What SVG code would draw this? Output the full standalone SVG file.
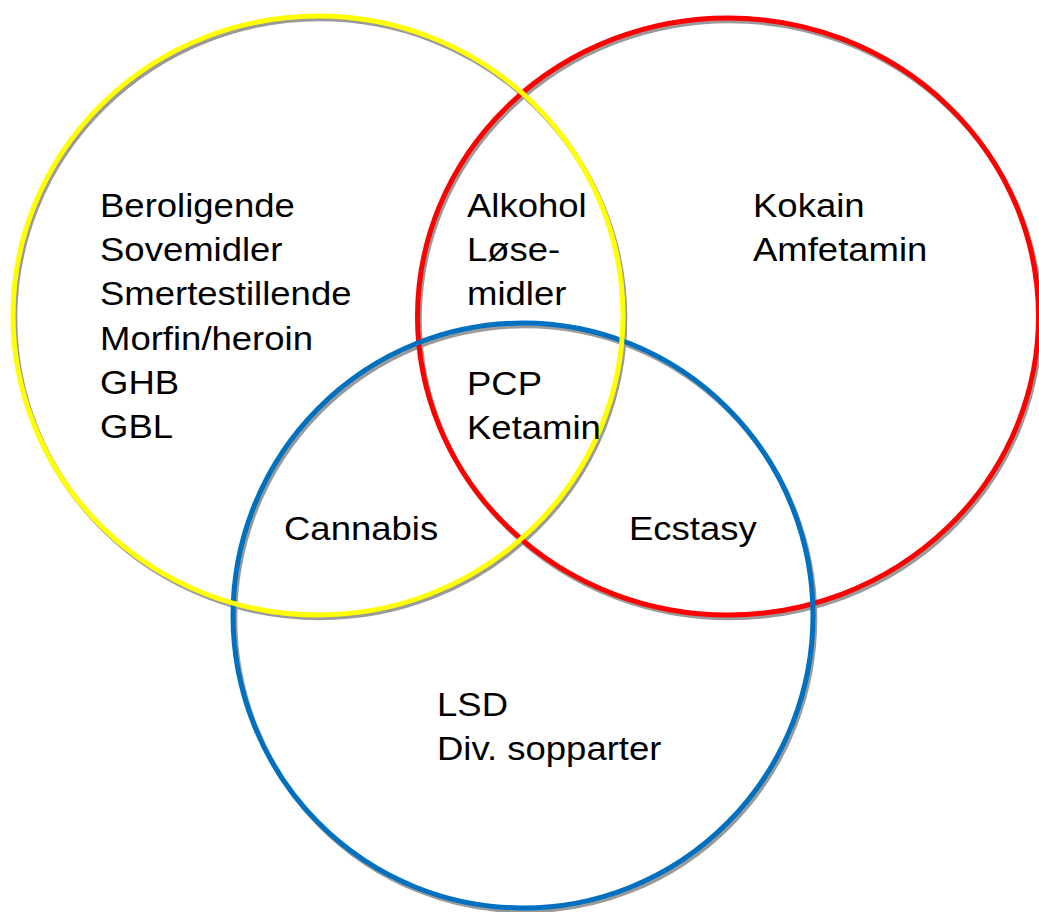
<svg xmlns="http://www.w3.org/2000/svg" width="1039" height="912" viewBox="0 0 1039 912">
<style>
.ring{fill:none;stroke-width:5}
.sh{fill:none;stroke:#9a9a9a;stroke-width:5}
.lbl{font-family:"Liberation Sans",Arial,sans-serif;font-size:33.5px;fill:#000}
</style>
<rect width="1039" height="912" fill="#fff"/>
<g id="shadows">
<ellipse class="sh" cx="729.8" cy="319.3" rx="310.5" ry="298.5"/>
<ellipse class="sh" cx="524.8" cy="618.3" rx="290" ry="292.5"/>
<ellipse class="sh" cx="319.8" cy="318.3" rx="305" ry="299.5"/>
</g>
<g id="circle-red"><ellipse class="ring" stroke="#ff0000" cx="728" cy="316.5" rx="310.5" ry="298.5"/></g>
<g id="circle-blue"><ellipse class="ring" stroke="#0070c0" cx="523" cy="615.5" rx="290" ry="292.5"/></g>
<g id="circle-yellow"><ellipse class="ring" stroke="#ffff00" cx="318" cy="315.5" rx="305" ry="299.5"/></g>
<g id="node-yellow">
<text class="lbl" transform="translate(100,217) scale(1.09,1)"><tspan x="0" y="0">Beroligende</tspan><tspan x="0" y="44.2">Sovemidler</tspan><tspan x="0" y="88.4">Smertestillende</tspan><tspan x="0" y="132.6">Morfin/heroin</tspan><tspan x="0" y="176.8">GHB</tspan><tspan x="0" y="221">GBL</tspan></text>
</g>
<g id="node-yellow-red">
<text class="lbl" transform="translate(467,217) scale(1.09,1)"><tspan x="0" y="0">Alkohol</tspan><tspan x="0" y="44.2">Løse-</tspan><tspan x="0" y="88.4">midler</tspan></text>
</g>
<g id="node-red">
<text class="lbl" transform="translate(753,217) scale(1.09,1)"><tspan x="0" y="0">Kokain</tspan><tspan x="0" y="44.2">Amfetamin</tspan></text>
</g>
<g id="node-center">
<text class="lbl" transform="translate(467,395) scale(1.09,1)"><tspan x="0" y="0">PCP</tspan><tspan x="0" y="44.2">Ketamin</tspan></text>
</g>
<g id="node-yellow-blue">
<text class="lbl" transform="translate(284,540) scale(1.09,1)">Cannabis</text>
</g>
<g id="node-red-blue">
<text class="lbl" transform="translate(629,540) scale(1.09,1)">Ecstasy</text>
</g>
<g id="node-blue">
<text class="lbl" transform="translate(437,716) scale(1.09,1)"><tspan x="0" y="0">LSD</tspan><tspan x="0" y="44.2">Div. sopparter</tspan></text>
</g>
<g id="connectors"/>
</svg>
